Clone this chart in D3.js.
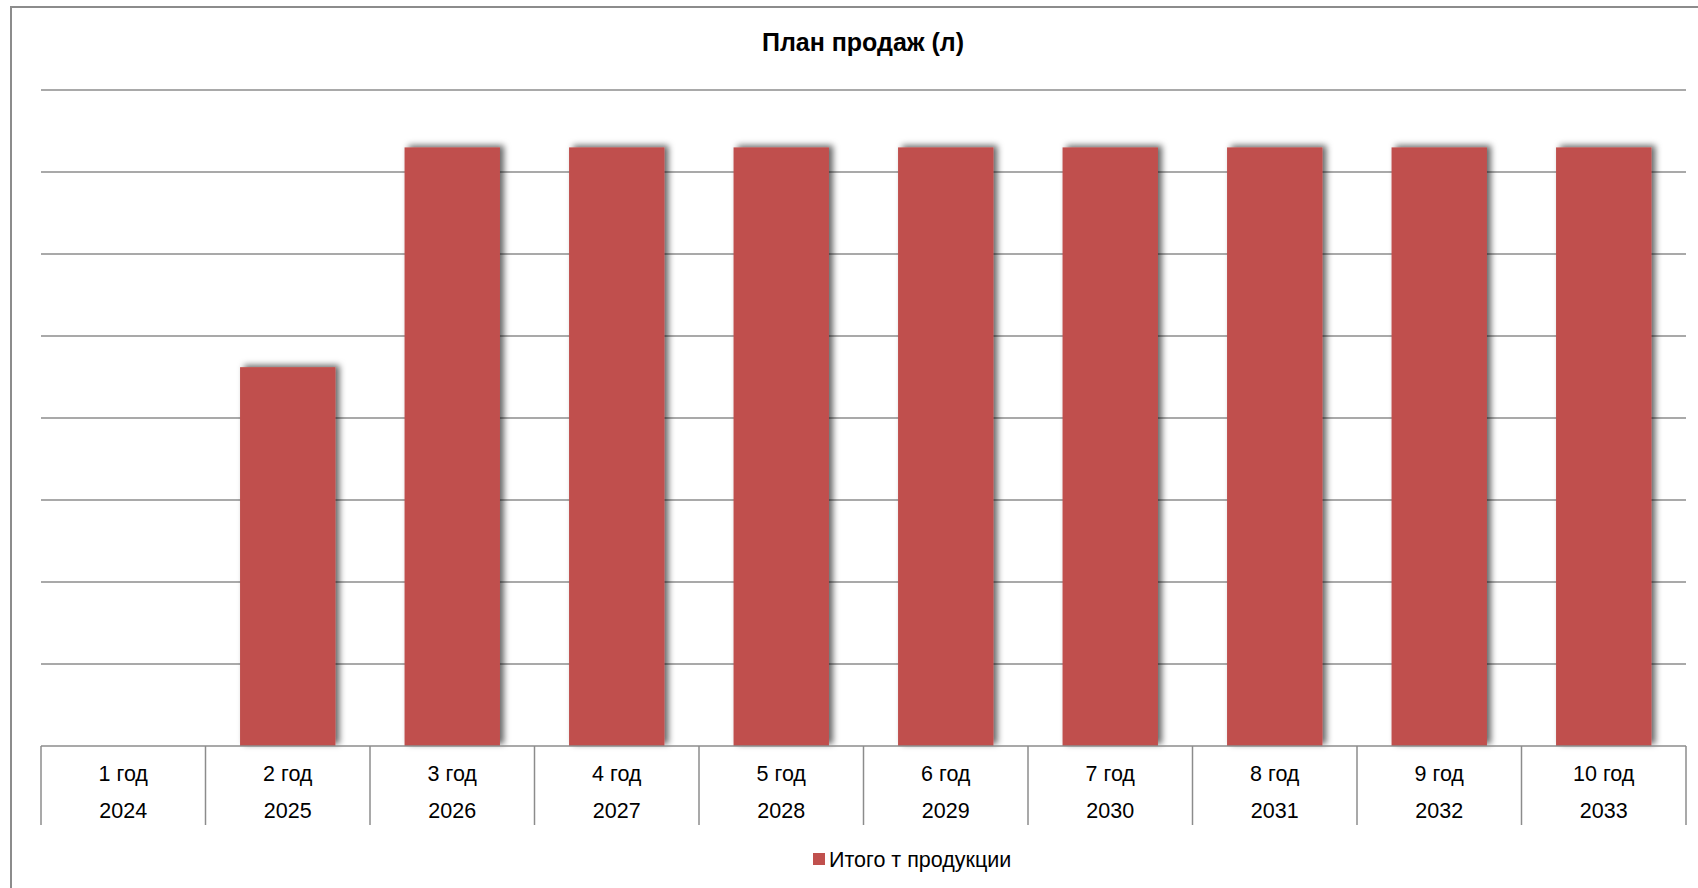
<!DOCTYPE html>
<html>
<head>
<meta charset="utf-8">
<script src="https://cdn.jsdelivr.net/npm/d3@7"></script>
<style>
  body { margin: 0; background: #fff; }
  text { font-family: "Liberation Sans", Arial, sans-serif; fill: #000; }
</style>
</head>
<body>
<script>
// data (y axis has no labels, units are relative)
var years = ["1 год", "2 год", "3 год", "4 год", "5 год", "6 год", "7 год", "8 год", "9 год", "10 год"];
var calYears = ["2024", "2025", "2026", "2027", "2028", "2029", "2030", "2031", "2032", "2033"];
var sales = [0, 46200, 73000, 73000, 73000, 73000, 73000, 73000, 73000, 73000];
var gridTicks = [10000, 20000, 30000, 40000, 50000, 60000, 70000, 80000];

var W = 1698, H = 888;
var m = {left: 41, right: 1686, top: 90, base: 746};

var svg = d3.select('body').append('svg')
    .attr('width', W)
    .attr('height', H);

var defs = svg.append('defs');
var f = defs.append('filter').attr('id', 'shadow')
    .attr('x', '-20%').attr('y', '-5%').attr('width', '140%').attr('height', '110%');
f.append('feDropShadow')
    .attr('dx', 4).attr('dy', -2)
    .attr('stdDeviation', 3.2)
    .attr('flood-color', '#000')
    .attr('flood-opacity', 0.6);

// outer chart border
svg.append('rect')
    .attr('x', 11).attr('y', 7)
    .attr('width', W).attr('height', H)
    .attr('fill', 'none')
    .attr('stroke', '#8c8c8c')
    .attr('stroke-width', 2);

var x = d3.scaleBand()
    .domain(years)
    .range([m.left, m.right])
    .paddingInner(0.42)
    .paddingOuter(0.21);

var y = d3.scaleLinear()
    .domain([0, 80000])
    .range([m.base, m.top]);

// horizontal gridlines
svg.append('g').selectAll('line')
    .data(gridTicks)
    .join('line')
    .attr('x1', m.left).attr('x2', m.right)
    .attr('y1', function (d) { return y(d); })
    .attr('y2', function (d) { return y(d); })
    .attr('stroke', '#8c8c8c')
    .attr('stroke-width', 1.5);

// bars
svg.append('g').selectAll('rect')
    .data(sales)
    .join('rect')
    .attr('x', function (d, i) { return x(years[i]); })
    .attr('y', function (d) { return y(d); })
    .attr('width', x.bandwidth())
    .attr('height', function (d) { return y(0) - y(d); })
    .attr('fill', '#C0504D')
    .attr('filter', function (d) { return d > 0 ? 'url(#shadow)' : null; });

// category axis
var step = x.step();
var ax = svg.append('g');
ax.append('line')
    .attr('x1', m.left).attr('x2', m.right)
    .attr('y1', m.base).attr('y2', m.base)
    .attr('stroke', '#8c8c8c').attr('stroke-width', 1.5);
ax.selectAll('line.div')
    .data(d3.range(years.length + 1))
    .join('line')
    .attr('class', 'div')
    .attr('x1', function (i) { return m.left + i * step; })
    .attr('x2', function (i) { return m.left + i * step; })
    .attr('y1', m.base).attr('y2', 825)
    .attr('stroke', '#8c8c8c').attr('stroke-width', 1.5);

ax.selectAll('text.yr')
    .data(years)
    .join('text')
    .attr('class', 'yr')
    .attr('x', function (d) { return x(d) + x.bandwidth() / 2; })
    .attr('y', 781)
    .attr('text-anchor', 'middle')
    .style('font-size', '21.5px')
    .text(function (d) { return d; });

ax.selectAll('text.cal')
    .data(calYears)
    .join('text')
    .attr('class', 'cal')
    .attr('x', function (d, i) { return x(years[i]) + x.bandwidth() / 2; })
    .attr('y', 818)
    .attr('text-anchor', 'middle')
    .style('font-size', '21.5px')
    .text(function (d) { return d; });

// title
svg.append('text')
    .attr('x', 863).attr('y', 51)
    .attr('text-anchor', 'middle')
    .style('font-size', '25px')
    .style('font-weight', 'bold')
    .text('План продаж (л)');

// legend
var lg = svg.append('g').attr('transform', 'translate(813,859)');
lg.append('rect')
    .attr('x', 0).attr('y', -6)
    .attr('width', 12).attr('height', 12)
    .attr('fill', '#C0504D');
lg.append('text')
    .attr('x', 16).attr('y', 7.5)
    .style('font-size', '21.5px')
    .text('Итого т продукции');
</script>
</body>
</html>
